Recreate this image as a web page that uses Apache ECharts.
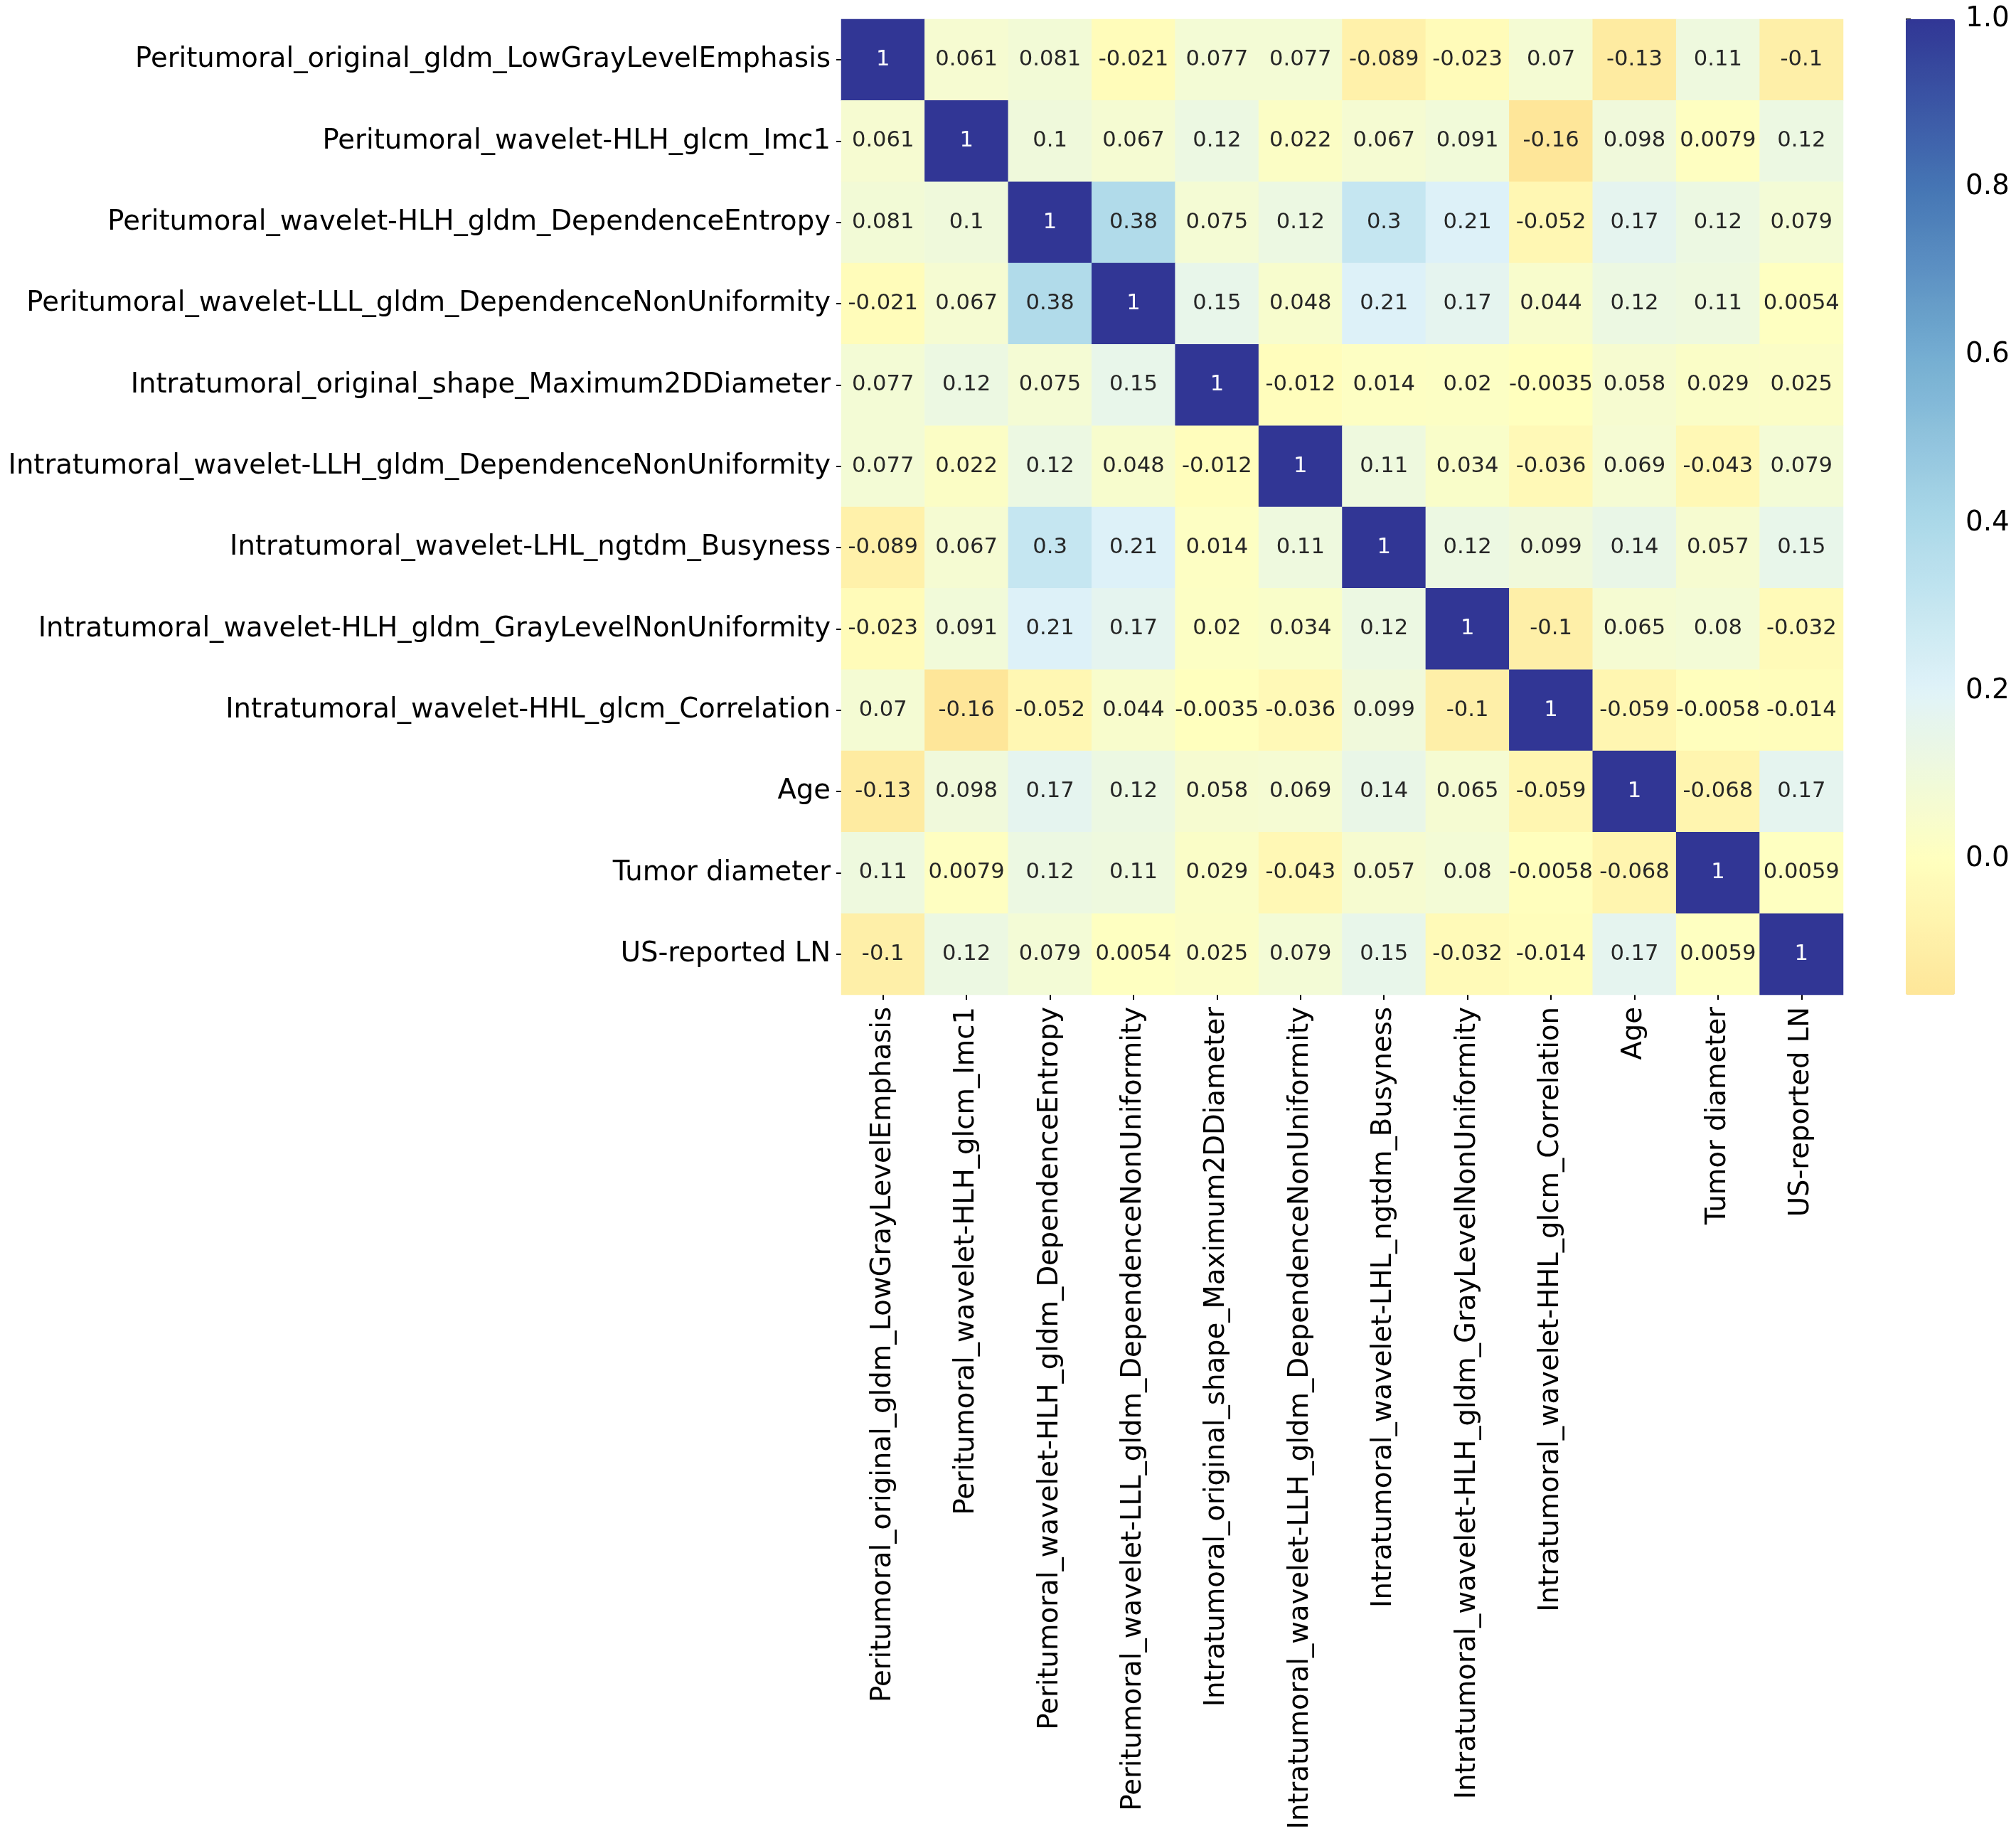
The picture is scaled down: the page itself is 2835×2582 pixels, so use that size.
<!DOCTYPE html>
<html>
<head>
<meta charset="utf-8">
<script src="https://cdn.jsdelivr.net/npm/echarts@6/dist/echarts.min.js"></script>
<style>
html,body{margin:0;padding:0;background:#fff;}
#chart{width:2835px;height:2582px;}
</style>
</head>
<body>
<div id="chart"></div>
<script>
const features = [
  "Peritumoral_original_gldm_LowGrayLevelEmphasis",
  "Peritumoral_wavelet-HLH_glcm_Imc1",
  "Peritumoral_wavelet-HLH_gldm_DependenceEntropy",
  "Peritumoral_wavelet-LLL_gldm_DependenceNonUniformity",
  "Intratumoral_original_shape_Maximum2DDiameter",
  "Intratumoral_wavelet-LLH_gldm_DependenceNonUniformity",
  "Intratumoral_wavelet-LHL_ngtdm_Busyness",
  "Intratumoral_wavelet-HLH_gldm_GrayLevelNonUniformity",
  "Intratumoral_wavelet-HHL_glcm_Correlation",
  "Age",
  "Tumor diameter",
  "US-reported LN"
];
const row0  = [1, 0.061, 0.081, -0.021, 0.077, 0.077, -0.089, -0.023, 0.07, -0.13, 0.11, -0.1];
const row1  = [0.061, 1, 0.1, 0.067, 0.12, 0.022, 0.067, 0.091, -0.16, 0.098, 0.0079, 0.12];
const row2  = [0.081, 0.1, 1, 0.38, 0.075, 0.12, 0.3, 0.21, -0.052, 0.17, 0.12, 0.079];
const row3  = [-0.021, 0.067, 0.38, 1, 0.15, 0.048, 0.21, 0.17, 0.044, 0.12, 0.11, 0.0054];
const row4  = [0.077, 0.12, 0.075, 0.15, 1, -0.012, 0.014, 0.02, -0.0035, 0.058, 0.029, 0.025];
const row5  = [0.077, 0.022, 0.12, 0.048, -0.012, 1, 0.11, 0.034, -0.036, 0.069, -0.043, 0.079];
const row6  = [-0.089, 0.067, 0.3, 0.21, 0.014, 0.11, 1, 0.12, 0.099, 0.14, 0.057, 0.15];
const row7  = [-0.023, 0.091, 0.21, 0.17, 0.02, 0.034, 0.12, 1, -0.1, 0.065, 0.08, -0.032];
const row8  = [0.07, -0.16, -0.052, 0.044, -0.0035, -0.036, 0.099, -0.1, 1, -0.059, -0.0058, -0.014];
const row9  = [-0.13, 0.098, 0.17, 0.12, 0.058, 0.069, 0.14, 0.065, -0.059, 1, -0.068, 0.17];
const row10 = [0.11, 0.0079, 0.12, 0.11, 0.029, -0.043, 0.057, 0.08, -0.0058, -0.068, 1, 0.0059];
const row11 = [-0.1, 0.12, 0.079, 0.0054, 0.025, 0.079, 0.15, -0.032, -0.014, 0.17, 0.0059, 1];
const colorbarTicks = [0.0, 0.2, 0.4, 0.6, 0.8, 1.0];
const vmin = -0.162, vmax = 1.0;

const rows = [row0,row1,row2,row3,row4,row5,row6,row7,row8,row9,row10,row11];
const data = [];
rows.forEach((r, yi) => r.forEach((v, xi) => {
  data.push(v >= 0.7 ? {value: [xi, yi, v], label: {color: '#ffffff'}} : {value: [xi, yi, v]});
}));

// matplotlib RdYlBu anchors (seaborn centered at 0 -> t=(v+1)/2)
const rdylbu = [
  [0.647,0.0,0.149],[0.843,0.188,0.153],[0.957,0.427,0.263],[0.992,0.682,0.380],
  [0.996,0.878,0.565],[1.0,1.0,0.749],[0.878,0.953,0.973],[0.671,0.851,0.914],
  [0.455,0.678,0.820],[0.271,0.459,0.706],[0.192,0.212,0.584]
];
function cmap(t){
  const p = Math.max(0, Math.min(1, t)) * 10;
  const i = Math.min(9, Math.floor(p)), f = p - i;
  const a = rdylbu[i], b = rdylbu[i+1];
  const c = a.map((x,k)=>Math.round((x + (b[k]-x)*f)*255));
  return 'rgb(' + c.join(',') + ')';
}
const N = 80;
const colors = [];
for (let k = 0; k < N; k++) {
  const v = vmin + (vmax - vmin) * k / (N - 1);
  colors.push(cmap((v + 1) / 2));
}

const FONT = 'DejaVu Sans';
const LABEL_SIZE = 38.6;
const chart = echarts.init(document.getElementById('chart'), null, {renderer:'canvas'});
chart.setOption({
  backgroundColor: '#fff',
  animation: false,
  textStyle: {fontFamily: FONT},
  grid: [
    {left: 1183, top: 27, width: 1409, height: 1372},
    {left: 2680, top: 27, width: 69, height: 1372}
  ],
  xAxis: [
    {
      type: 'category', data: features, gridIndex: 0, position: 'bottom',
      axisLine: {show: false},
      axisTick: {show: true, alignWithLabel: true, length: 7, lineStyle: {color: '#000', width: 2}},
      axisLabel: {interval: 0, rotate: 90, fontSize: LABEL_SIZE, color: '#000', fontFamily: FONT, margin: 17},
      splitLine: {show: false}
    },
    {type: 'value', gridIndex: 1, show: false, min: 0, max: 1}
  ],
  yAxis: [
    {
      type: 'category', data: features, gridIndex: 0, inverse: true,
      axisLine: {show: false},
      axisTick: {show: true, alignWithLabel: true, length: 7, lineStyle: {color: '#000', width: 2}},
      axisLabel: {interval: 0, fontSize: LABEL_SIZE, color: '#000', fontFamily: FONT, margin: 15},
      splitLine: {show: false}
    },
    {
      type: 'value', gridIndex: 1, position: 'right', min: vmin, max: vmax,
      axisLine: {show: false},
      splitLine: {show: false},
      axisTick: {show: true, length: 7, customValues: colorbarTicks, lineStyle: {color: '#000', width: 2}},
      axisLabel: {show: true, customValues: colorbarTicks, fontSize: 38.9, color: '#000', fontFamily: FONT, margin: 15,
        formatter: v => Number(v).toFixed(1)}
    }
  ],
  visualMap: {
    type: 'continuous', seriesIndex: 0, min: vmin, max: vmax,
    calculable: false, show: true, orient: 'vertical',
    left: 2680, top: 27, itemWidth: 69, itemHeight: 1372, padding: 0,
    inRange: {color: colors},
    hoverLink: false
  },
  series: [
    {
      type: 'heatmap', xAxisIndex: 0, yAxisIndex: 0, data: data,
      itemStyle: {borderWidth: 0},
      label: {
        show: true, fontSize: 30.6, fontFamily: FONT,
        formatter: p => String(p.value[2]),
        color: '#262626'
      },
      emphasis: {disabled: true}
    },
    {type: 'scatter', xAxisIndex: 1, yAxisIndex: 1, data: [], silent: true}
  ]
});
</script>
</body>
</html>
